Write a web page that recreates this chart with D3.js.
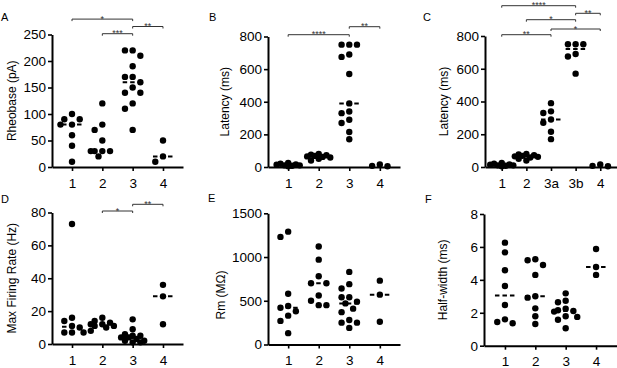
<!DOCTYPE html>
<html lang="en">
<head>
<meta charset="UTF-8">
<title>Electrophysiology scatter panels</title>
<script src="https://d3js.org/d3.v7.min.js"></script>
<style>
  body { margin: 0; background: #fff; }
  svg { display: block; font-family: "Liberation Sans", Arial, sans-serif; }
</style>
</head>
<body>
<svg id="fig" width="617" height="368"></svg>
<script>
// ---- data ----
const cats4 = ["1", "2", "3", "4"];
const catsC = ["1", "2", "3a", "3b", "4"];

const rheo1 = [100, 90, 90, 80, 80, 60, 40, 10];
const rheo2 = [120, 80, 70, 50, 30, 30, 30, 30, 20];
const rheo3 = [220, 220, 210, 190, 170, 170, 160, 150, 140, 140, 120, 110, 70];
const rheo4 = [50, 20, 10];

const lat1 = [25, 20, 15, 14, 10, 10, 8, 5];
const lat2 = [80, 76, 72, 68, 65, 62, 58, 50, 40];
const lat3a = [390, 340, 330, 290, 270, 215, 170];
const lat3b = [750, 750, 750, 690, 675, 570];
const lat4 = [5, 15, 7];

const mfr1 = [73, 16, 14, 11, 10, 7, 7, 7];
const mfr2 = [16, 14, 13, 12, 12, 11, 11, 10, 8];
const mfr3 = [15, 9, 6, 5, 5, 4, 4, 3, 2, 2, 1, 1];
const mfr4 = [36, 29, 12];

const rm1 = [1290, 1230, 580, 440, 420, 380, 330, 270, 130];
const rm2 = [1120, 970, 780, 700, 700, 560, 500, 450, 450];
const rm3 = [830, 690, 640, 540, 540, 490, 470, 410, 370, 280, 250, 250, 190];
const rm4 = [730, 570, 260];

const hw1 = [6.26, 5.67, 4.58, 3.63, 2.47, 1.6, 1.44, 1.36];
const hw2 = [5.25, 5.19, 4.9, 4.3, 3.0, 2.92, 2.27, 1.79, 1.32];
const hw3 = [3.18, 2.73, 2.64, 2.25, 2.15, 2.11, 2.07, 1.79, 1.75, 1.58, 1.06];
const hw4 = [5.87, 4.78, 4.3];

const rheoTicks = [0, 50, 100, 150, 200, 250];
const latTicks = [0, 200, 400, 600, 800];
const mfrTicks = [0, 20, 40, 60, 80];
const rmTicks = [0, 500, 1000, 1500];
const hwTicks = [0, 2, 4, 6, 8];

// significance brackets: [from, to, label]
const sigA = [["2", "3", "***"], ["3", "4", "**"], ["1", "3", "*"]];
const sigB = [["1", "3", "****"], ["3", "4", "**"]];
const sigC = [["1", "3a", "**"], ["3a", "4", "*"], ["2", "3b", "*"], ["3b", "4", "**"], ["1", "3b", "****"]];
const sigD = [["2", "3", "*"], ["3", "4", "**"]];

// ---- layout ----
const panels = [
  {letter: "A", lx: 1, ly: 21, ax: 52, xEnd: 183, top: 34.5, bot: 167, pad: 0.66, cats: cats4,
   groups: [rheo1, rheo2, rheo3, rheo4], ticks: rheoTicks, title: "Rheobase (pA)", tx: 12,
   sig: sigA, sigRise: [0.8, 8, 15.4]},
  {letter: "B", lx: 209, ly: 21, ax: 268, xEnd: 400, top: 36.5, bot: 167, pad: 0.66, cats: cats4,
   groups: [lat1, lat2, lat3a.concat(lat3b), lat4], ticks: latTicks, title: "Latency (ms)", tx: 225,
   sig: sigB, sigRise: [1.8, 9.8]},
  {letter: "C", lx: 423, ly: 21, ax: 485, xEnd: 617, top: 36, bot: 167, pad: 0.68, cats: catsC,
   groups: [lat1, lat2, lat3a, lat3b, lat4], ticks: latTicks, title: "Latency (ms)", tx: 444,
   sig: sigC, sigRise: [1.3, 7, 16.3, 22.7, 30.3]},
  {letter: "D", lx: 1, ly: 203, ax: 52, xEnd: 183, top: 212.5, bot: 344, pad: 0.66, cats: cats4,
   groups: [mfr1, mfr2, mfr3, mfr4], ticks: mfrTicks, title: "Max Firing Rate (Hz)", tx: 12,
   sig: sigD, sigRise: [1.5, 8.2]},
  {letter: "E", lx: 208, ly: 202, ax: 268, xEnd: 400, top: 213.3, bot: 344.5, pad: 0.66, cats: cats4,
   groups: [rm1, rm2, rm3, rm4], ticks: rmTicks, title: "Rm (MΩ)", tx: 221, ty: 295,
   sig: [], sigRise: []},
  {letter: "F", lx: 425, ly: 203, ax: 484, xEnd: 617, top: 214, bot: 345.7, pad: 0.69, cats: cats4,
   groups: [hw1, hw2, hw3, hw4], ticks: hwTicks, title: "Half-width (ms)", tx: 443,
   sig: [], sigRise: []}
];

const R = 3.2, STEP = 7.7;

// simple beeswarm: place each dot at the nearest free offset from the centre line
function swarm(values, y) {
  const cands = [0, -STEP, STEP, -STEP / 2, STEP / 2, -1.5 * STEP, 1.5 * STEP];
  const placed = [];
  values.slice().sort((a, b) => b - a).forEach(v => {
    const py = y(v);
    let best = 0, bestD = -1;
    for (const c of cands) {
      const dmin = placed.length ? d3.min(placed, p => Math.hypot(p.dx - c, p.py - py)) : Infinity;
      if (dmin >= 2 * R + 0.6) { best = c; break; }
      if (dmin > bestD) { bestD = dmin; best = c; }
    }
    placed.push({v, py, dx: best});
  });
  return placed;
}

const svg = d3.select("#fig");

panels.forEach(p => {
  const g = svg.append("g");
  const x = d3.scalePoint().domain(p.cats).range([p.ax, p.xEnd]).padding(p.pad);
  const y = d3.scaleLinear().domain([0, d3.max(p.ticks)]).range([p.bot, p.top]);

  // axes
  const yAx = g.append("g")
    .attr("transform", `translate(${p.ax},0)`)
    .call(d3.axisLeft(y).tickValues(p.ticks).tickFormat(d3.format("d"))
      .tickSize(4).tickSizeOuter(0).tickPadding(2));
  const xAx = g.append("g")
    .attr("transform", `translate(0,${p.bot})`)
    .call(d3.axisBottom(x).tickSize(4).tickSizeOuter(0).tickPadding(7));
  [yAx, xAx].forEach(a => {
    a.select(".domain").attr("stroke", "#000").attr("stroke-width", 2);
    a.selectAll(".tick line").attr("stroke", "#000").attr("stroke-width", 1.6);
    a.selectAll(".tick text").attr("fill", "#000").style("font-size", "13.5px")
      .style("font-family", "'Liberation Sans', Arial, sans-serif");
  });

  // y title
  g.append("text")
    .attr("transform", `translate(${p.tx},${p.ty || (p.top + p.bot) / 2}) rotate(-90)`)
    .attr("text-anchor", "middle").attr("dy", "0.35em")
    .style("font-size", "12px").text(p.title);

  // panel letter
  g.append("text").attr("x", p.lx).attr("y", p.ly)
    .style("font-size", "11px").text(p.letter);

  // dots + median
  p.groups.forEach((vals, i) => {
    const cx = x(p.cats[i]);
    const med = d3.median(vals);
    g.append("line")
      .attr("x1", cx - 10).attr("x2", cx + 10)
      .attr("y1", y(med)).attr("y2", y(med))
      .attr("stroke", "#000").attr("stroke-width", 2).attr("stroke-dasharray", "4.5,3");
    g.selectAll(null).data(swarm(vals, y)).enter().append("circle")
      .attr("cx", d => cx + d.dx).attr("cy", d => d.py).attr("r", R).attr("fill", "#000");
  });

  // significance brackets
  p.sig.forEach((s, i) => {
    const yy = p.top - p.sigRise[i];
    const x1 = x(s[0]), x2 = x(s[1]);
    g.append("path")
      .attr("d", `M${x1},${yy + 2}V${yy}H${x2}V${yy + 2}`)
      .attr("fill", "none").attr("stroke", "#333").attr("stroke-width", 1);
    g.append("text")
      .attr("x", (x1 + x2) / 2).attr("y", yy + 2.5)
      .attr("text-anchor", "middle").attr("fill", "#333")
      .style("font-size", "9px").text(s[2]);
  });
});
</script>
</body>
</html>
